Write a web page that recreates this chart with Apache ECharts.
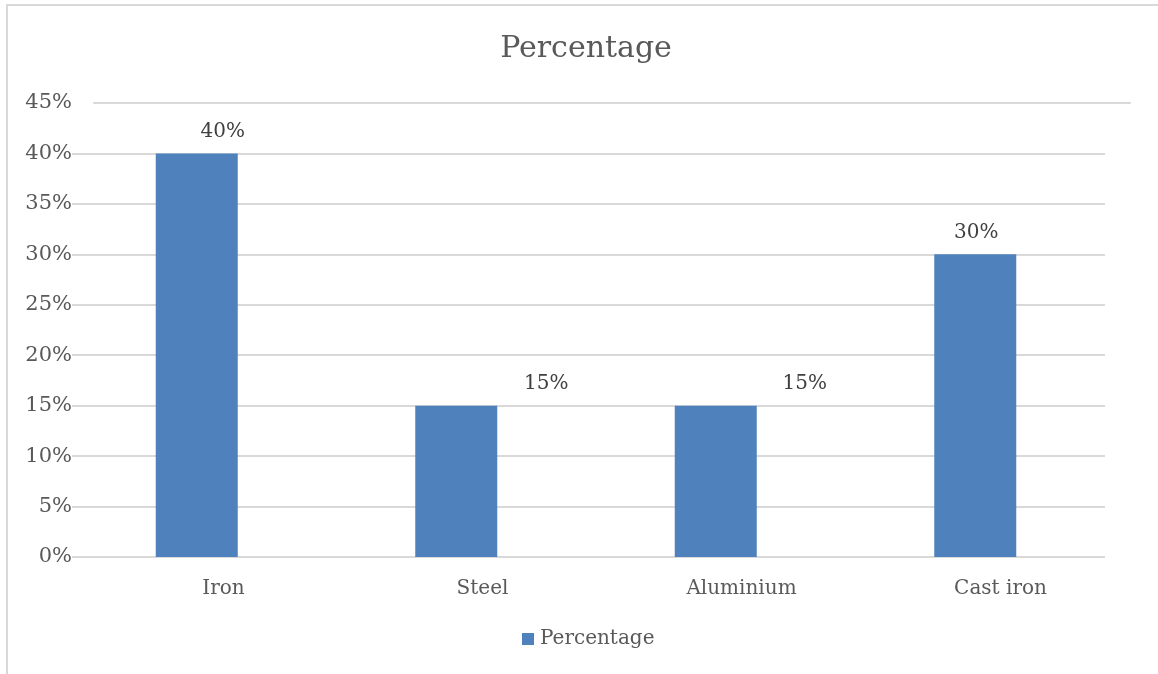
<!DOCTYPE html>
<html>
<head>
<meta charset="utf-8">
<script src="https://cdn.jsdelivr.net/npm/echarts@6/dist/echarts.min.js"></script>
<style>
  html, body { margin: 0; padding: 0; background: #fff; }
  #chart { width: 1158px; height: 674px; }
</style>
</head>
<body>
<div id="chart"></div>
<script>
// Share of each material
const categories = ['Iron', 'Steel', 'Aluminium', 'Cast iron'];
const percentage = [40, 15, 15, 30];
const seriesName = 'Percentage';

// Horizontal nudge of each value label relative to its bar
const labelShift = [26, 90, 89, 1];

const FONT = 'DejaVu Serif';
const TEXT = '#595959';
const BAR = '#4f81bd';
const GRID_LINE = '#d9d9d9';

const chart = echarts.init(document.getElementById('chart'), null, { renderer: 'canvas' });

const barData = percentage.map((v, i) => ({
  value: v,
  label: { offset: [labelShift[i], 0] }
}));

chart.setOption({
  animation: false,
  backgroundColor: '#fff',
  title: {
    text: seriesName,
    left: 581,
    top: 29,
    textAlign: 'center',
    textStyle: { fontFamily: FONT, fontSize: 30, fontWeight: 'normal', color: TEXT }
  },
  legend: {
    data: [seriesName],
    left: 517,
    top: 624,
    icon: 'rect',
    itemWidth: 12,
    itemHeight: 12,
    textStyle: { fontFamily: FONT, fontSize: 20, color: TEXT, padding: [0, 0, 0, 1] }
  },
  graphic: [{
    type: 'rect',
    silent: true,
    z: -1,
    shape: { x: 7, y: 5, width: 1300, height: 800 },
    style: { fill: 'none', stroke: GRID_LINE, lineWidth: 2 }
  }],
  grid: [
    { left: 67, right: 53, top: 103, bottom: 117 },
    { left: 94, right: 28, top: 103, bottom: 117 }
  ],
  xAxis: [
    { type: 'category', gridIndex: 0, data: categories, show: false },
    {
      type: 'category', gridIndex: 1, data: categories, position: 'bottom',
      axisLine: { show: false }, axisTick: { show: false },
      axisLabel: { margin: 22, fontFamily: FONT, fontSize: 20, color: TEXT }
    },
    {
      type: 'category', gridIndex: 1, data: categories, position: 'top',
      axisLine: { show: true, lineStyle: { color: GRID_LINE, width: 2 } },
      axisTick: { show: false }, axisLabel: { show: false }
    }
  ],
  yAxis: [
    {
      type: 'value', gridIndex: 0, min: 0, max: 45, interval: 5,
      axisLine: { show: false }, axisTick: { show: false },
      axisLabel: {
        formatter: '{value}%', margin: -5, fontFamily: FONT, fontSize: 21, color: TEXT,
        backgroundColor: '#fff'
      },
      splitLine: { show: true, showMaxLine: false, lineStyle: { color: GRID_LINE, width: 2 } }
    },
    { type: 'value', gridIndex: 1, min: 0, max: 45, show: false, splitLine: { show: false } }
  ],
  series: [{
    name: seriesName,
    type: 'bar',
    xAxisIndex: 0,
    yAxisIndex: 0,
    barWidth: 82,
    itemStyle: { color: BAR },
    label: {
      show: true,
      position: 'top',
      distance: 12,
      formatter: '{c}%',
      fontFamily: FONT,
      fontSize: 20,
      color: '#404040'
    },
    data: barData
  }]
});
</script>
</body>
</html>
